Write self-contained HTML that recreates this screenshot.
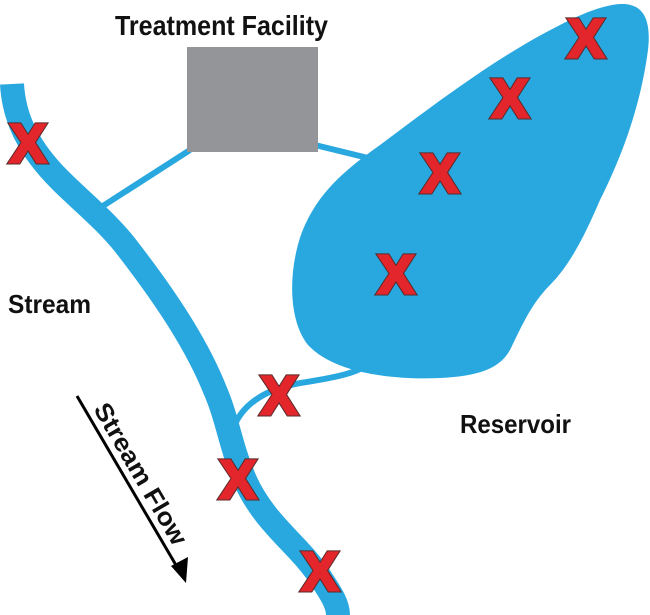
<!DOCTYPE html>
<html><head><style>body{margin:0;background:#fff}svg{display:block}</style></head>
<body>
<svg width="650" height="615" viewBox="0 0 650 615" xmlns="http://www.w3.org/2000/svg">
<g fill="none" stroke="#29a8e0" stroke-linecap="butt">
<path d="M12,84 C14,120 30,150 60,180 C80,200 105,220 125,245 C160,290 195,340 215,390 C228,420 230,445 245,480 C265,525 300,545 322,580 C332,595 338,605 338,615" stroke-width="24"/>
<path d="M92,213 L190,150" stroke-width="6"/>
<path d="M315,145 L368,158" stroke-width="6"/>
<path d="M232,432 C240,405 265,390 295,384 C330,378 355,375 372,362" stroke-width="6"/>
</g>
<path fill="#29a8e0" d="M620,4 C640,3 652,15 648,50 C640,110 620,160 600,200 C585,235 570,265 550,285 C530,305 520,330 510,350 C500,368 480,376 440,378 C395,380 335,374 308,345 C288,320 288,270 302,232 C318,192 345,170 380,145 C440,100 500,55 560,25 C585,12 605,5 620,4 Z"/>
<rect x="187" y="47" width="131" height="105" fill="#939598"/>
<g font-family="'Liberation Sans Narrow','Liberation Sans',sans-serif" font-weight="bold" fill="#111">
<text x="115" y="35" font-size="28" textLength="213" lengthAdjust="spacingAndGlyphs">Treatment Facility</text>
<text x="8" y="313" font-size="26" textLength="83" lengthAdjust="spacingAndGlyphs">Stream</text>
<text x="460" y="433" font-size="26" textLength="111" lengthAdjust="spacingAndGlyphs">Reservoir</text>
<text transform="translate(93,409) rotate(59.7)" font-size="25" textLength="160" lengthAdjust="spacingAndGlyphs">Stream Flow</text>
</g>
<line x1="77" y1="396" x2="180" y2="572" stroke="#000" stroke-width="3"/>
<polygon points="186,583 171,566 188,557" fill="#000"/>
<g font-family="'Liberation Sans',sans-serif" font-weight="bold" font-size="54" fill="#e3262b" stroke="#e3262b" stroke-width="3" text-anchor="middle">
<g stroke="#5a2a2a" stroke-width="5">
<text x="28" y="162">X</text>
<text x="586" y="57">X</text>
<text x="510" y="117">X</text>
<text x="440" y="192">X</text>
<text x="396" y="293">X</text>
<text x="279" y="414">X</text>
<text x="238" y="498">X</text>
<text x="320" y="590">X</text>
</g>
<text x="28" y="162">X</text>
<text x="586" y="57">X</text>
<text x="510" y="117">X</text>
<text x="440" y="192">X</text>
<text x="396" y="293">X</text>
<text x="279" y="414">X</text>
<text x="238" y="498">X</text>
<text x="320" y="590">X</text>
</g>
</svg>
</body></html>
